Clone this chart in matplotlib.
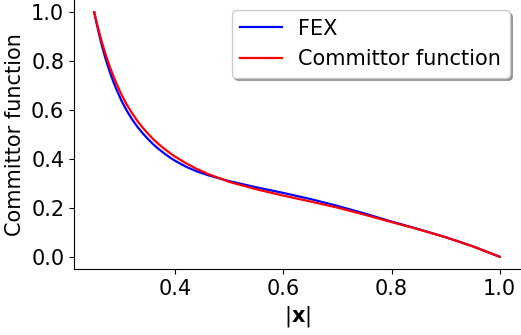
import matplotlib
matplotlib.use("Agg")
from matplotlib import pyplot as plt

# |x| grid
x_vals = [0.25, 0.255, 0.26, 0.265, 0.27, 0.275, 0.28, 0.285, 0.29, 0.30, 0.31, 0.32,
          0.33, 0.34, 0.35, 0.36, 0.37, 0.38, 0.39, 0.40, 0.42, 0.44, 0.46, 0.50,
          0.55, 0.60, 0.65, 0.70, 0.75, 0.80, 0.85, 0.90, 0.95, 1.00]

# FEX approximation (blue)
fex = [1.000, 0.948, 0.900, 0.856, 0.817, 0.781, 0.748, 0.718, 0.690, 0.640, 0.598, 0.562,
       0.531, 0.504, 0.480, 0.458, 0.439, 0.422, 0.406, 0.392, 0.368, 0.349, 0.334, 0.309,
       0.284, 0.261, 0.236, 0.208, 0.177, 0.144, 0.113, 0.080, 0.043, 0.000]

# reference committor function (red)
committor = [1.000, 0.954, 0.911, 0.871, 0.835, 0.801, 0.770, 0.741, 0.714, 0.665, 0.623, 0.587,
             0.555, 0.527, 0.502, 0.479, 0.459, 0.441, 0.424, 0.409, 0.382, 0.359, 0.339, 0.306,
             0.276, 0.250, 0.226, 0.201, 0.172, 0.142, 0.112, 0.080, 0.043, 0.000]

FS = 15

fig = plt.figure(figsize=(5.21, 3.35), dpi=100)
ax = fig.add_axes([0.142, 0.197, 0.856, 0.803])

ax.plot(x_vals, fex, color="b", lw=1.6, label="FEX")
ax.plot(x_vals, committor, color="r", lw=1.6, label="Committor function")

ax.set_xlabel(r"$|\mathbf{x}|$", fontsize=FS)
ax.set_ylabel("Committor function", fontsize=FS)
ax.tick_params(labelsize=FS)
ax.set_xticks([0.4, 0.6, 0.8, 1.0])
ax.set_yticks([0.0, 0.2, 0.4, 0.6, 0.8, 1.0])

ax.spines["top"].set_visible(False)
ax.spines["right"].set_visible(False)

ax.legend(loc="upper right", fontsize=FS, shadow=True)

fig.savefig("out.png", dpi=100)
